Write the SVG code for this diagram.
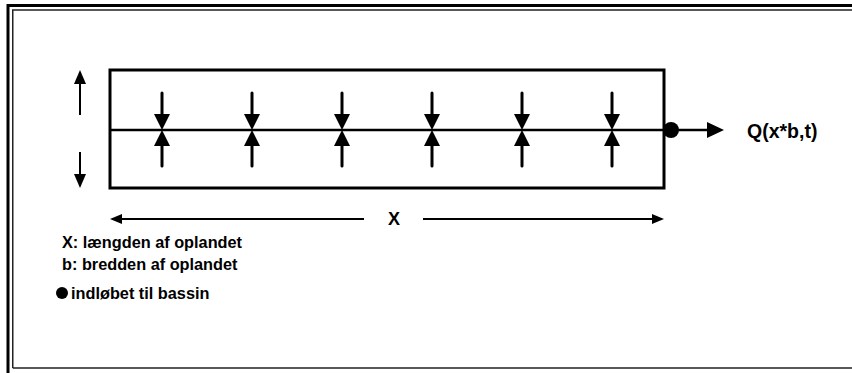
<svg xmlns="http://www.w3.org/2000/svg" width="852" height="373" viewBox="0 0 852 373">
  <style>
    .frame-outer { fill: none; stroke: #000; stroke-width: 3; }
    .frame-inner { fill: none; stroke: #222; stroke-width: 1.5; }
    .box { fill: none; stroke: #000; stroke-width: 3; }
    .axis { stroke: #000; stroke-width: 2.5; }
    .flow { stroke: #000; stroke-width: 3; stroke-linecap: round; }
    .thin { stroke: #000; stroke-width: 2; }
    .head { fill: #000; }
    .lbl { font-family: "Liberation Sans", Arial, sans-serif; font-weight: bold; font-size: 16.3px; fill: #000; }
    .lbl.q { font-size: 19.5px; }
    .lbl.dim { font-size: 18px; }
  </style>

  <!-- double page frame (runs off the right and bottom edges) -->
  <g id="frame">
    <path class="frame-outer" d="M8,380 V5.5 H860"/>
    <path class="frame-inner" d="M12.75,368 V10 H860 M12.75,368 H860"/>
  </g>

  <!-- catchment strip with centre drain line -->
  <g id="catchment">
    <rect class="box" x="110" y="70" width="554" height="118"/>
    <line class="axis" x1="110" y1="130" x2="664" y2="130"/>
  </g>

  <!-- width arrows on the left -->
  <g id="width-arrows">
    <line class="thin" x1="80" y1="82" x2="80" y2="115"/>
    <polygon class="head" points="80,70 74,84 86,84"/>
    <line class="thin" x1="80" y1="152" x2="80" y2="176"/>
    <polygon class="head" points="80,188 74,174 86,174"/>
  </g>

  <!-- lateral inflow arrows converging on the drain line -->
  <g id="inflows">
    <g id="inflow-1" transform="translate(162,0)">
      <line class="flow" x1="0" y1="93" x2="0" y2="116"/>
      <line class="flow" x1="0" y1="144" x2="0" y2="166"/>
      <polygon class="head" points="0,130 -8,114 8,114"/>
      <polygon class="head" points="0,130 -8,146 8,146"/>
    </g>
    <g id="inflow-2" transform="translate(252,0)">
      <line class="flow" x1="0" y1="93" x2="0" y2="116"/>
      <line class="flow" x1="0" y1="144" x2="0" y2="166"/>
      <polygon class="head" points="0,130 -8,114 8,114"/>
      <polygon class="head" points="0,130 -8,146 8,146"/>
    </g>
    <g id="inflow-3" transform="translate(342,0)">
      <line class="flow" x1="0" y1="93" x2="0" y2="116"/>
      <line class="flow" x1="0" y1="144" x2="0" y2="166"/>
      <polygon class="head" points="0,130 -8,114 8,114"/>
      <polygon class="head" points="0,130 -8,146 8,146"/>
    </g>
    <g id="inflow-4" transform="translate(432,0)">
      <line class="flow" x1="0" y1="93" x2="0" y2="116"/>
      <line class="flow" x1="0" y1="144" x2="0" y2="166"/>
      <polygon class="head" points="0,130 -8,114 8,114"/>
      <polygon class="head" points="0,130 -8,146 8,146"/>
    </g>
    <g id="inflow-5" transform="translate(522,0)">
      <line class="flow" x1="0" y1="93" x2="0" y2="116"/>
      <line class="flow" x1="0" y1="144" x2="0" y2="166"/>
      <polygon class="head" points="0,130 -8,114 8,114"/>
      <polygon class="head" points="0,130 -8,146 8,146"/>
    </g>
    <g id="inflow-6" transform="translate(612,0)">
      <line class="flow" x1="0" y1="93" x2="0" y2="116"/>
      <line class="flow" x1="0" y1="144" x2="0" y2="166"/>
      <polygon class="head" points="0,130 -8,114 8,114"/>
      <polygon class="head" points="0,130 -8,146 8,146"/>
    </g>
  </g>

  <!-- outlet to the basin and discharge -->
  <g id="outlet">
    <circle cx="671" cy="130" r="8" fill="#000"/>
    <line class="axis" x1="671" y1="130" x2="710" y2="130"/>
    <polygon class="head" points="724,130 707,122 707,138"/>
    <text class="lbl q" x="747" y="138">Q(x*b,t)</text>
  </g>

  <!-- length dimension -->
  <g id="length">
    <line class="thin" x1="118" y1="219" x2="364" y2="219"/>
    <polygon class="head" points="110,219 122,214 122,224"/>
    <line class="thin" x1="423" y1="219" x2="654" y2="219"/>
    <polygon class="head" points="664,219 652,214 652,224"/>
    <text class="lbl dim" x="388" y="225">X</text>
  </g>

  <!-- legend -->
  <g id="legend">
    <text class="lbl" x="62" y="248">X: længden af oplandet</text>
    <text class="lbl" x="62" y="270">b: bredden af oplandet</text>
    <circle cx="62" cy="293" r="6" fill="#000"/>
    <text class="lbl" x="71" y="299">indløbet til bassin</text>
  </g>
</svg>
